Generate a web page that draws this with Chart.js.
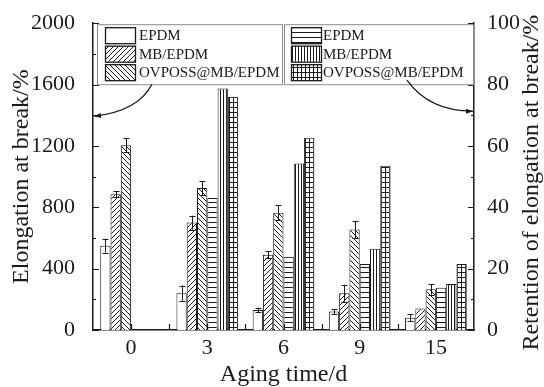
<!DOCTYPE html>
<html><head><meta charset="utf-8">
<script src="https://cdn.jsdelivr.net/npm/chart.js@4.4.1/dist/chart.umd.min.js"></script>
<style>html,body{margin:0;padding:0;background:#fff}canvas{display:block}</style>
</head><body>
<canvas id="c" width="544" height="387"></canvas>
<script>
// ---- data ----
const categories = ['0', '3', '6', '9', '15'];
const seriesNames = ['EPDM', 'MB/EPDM', 'OVPOSS@MB/EPDM'];
const elongEPDM   = [550, 240, 130, 120, 80];
const elongMB     = [885, 700, 490, 240, 140];
const elongOV     = [1205, 925, 765, 655, 265];
const errEPDM     = [45, 50, 15, 18, 22];
const errMB       = [20, 45, 22, 55, 0];
const errOV       = [45, 45, 50, 55, 35];
const retEPDM     = [0, 43, 23.9, 21.5, 13.8];
const retMB       = [0, 78.7, 54.3, 26.5, 15];
const retOV       = [0, 76, 62.7, 53.5, 21.5];
const leftTickValues  = [0, 400, 800, 1200, 1600, 2000];
const rightTickValues = [0, 20, 40, 60, 80, 100];
const xTitle = 'Aging time/d';
const yTitle = 'Elongation at break/%';
const y1Title = 'Retention of elongation at break/%';

const FONT = "Liberation Serif";
const INK = '#1a1a1a';

function makePattern(kind) {
  const c = document.createElement('canvas');
  let w = 5, h = 5;
  if (kind === 'v') { w = 3; h = 3; }
  if (kind === 'grid') { w = 4; h = 5; }
  c.width = w; c.height = h;
  const g = c.getContext('2d');
  g.fillStyle = '#fff'; g.fillRect(0, 0, w, h);
  g.strokeStyle = INK; g.lineWidth = 1;
  g.beginPath();
  if (kind === '/') {
    g.moveTo(-1, h + 1); g.lineTo(w + 1, -1);
    g.moveTo(-1, 1); g.lineTo(1, -1);
    g.moveTo(w - 1, h + 1); g.lineTo(w + 1, h - 1);
  } else if (kind === '\\') {
    g.moveTo(-1, -1); g.lineTo(w + 1, h + 1);
    g.moveTo(w - 1, -1); g.lineTo(w + 1, 1);
    g.moveTo(-1, h - 1); g.lineTo(1, h + 1);
  } else if (kind === 'h') {
    g.moveTo(0, 2.5); g.lineTo(w, 2.5);
  } else if (kind === 'v') {
    g.moveTo(1.5, 0); g.lineTo(1.5, h);
  } else if (kind === 'grid') {
    g.moveTo(1.5, 0); g.lineTo(1.5, h);
    g.moveTo(0, 2.5); g.lineTo(w, 2.5);
  }
  g.stroke();
  return g.createPattern(c, 'repeat');
}

const errs = [errEPDM, errMB, errOV];

function buildChart() {
  const ctx0 = document.getElementById('c').getContext('2d');
  const fills = ['#ffffff', makePattern('/'), makePattern('\\'), makePattern('h'), makePattern('v'), makePattern('grid')];

  function ds(label, data, i, axis) {
    return { label, data, yAxisID: axis, backgroundColor: fills[i], borderColor: INK, borderWidth: 1,
             categoryPercentage: 0.81, barPercentage: 1.0 };
  }

  const decorPlugin = {
    id: 'decor',
    afterDatasetsDraw(chart) {
      const c = chart.ctx;
      const y = chart.scales.y, y1 = chart.scales.y1, x = chart.scales.x;
      c.save();
      c.strokeStyle = INK; c.lineWidth = 1;
      // error bars
      for (let d = 0; d < 3; d++) {
        const meta = chart.getDatasetMeta(d);
        const vals = chart.data.datasets[d].data;
        meta.data.forEach((el, i) => {
          const e = errs[d][i];
          if (!e) return;
          const t = y.getPixelForValue(vals[i] + e), b = y.getPixelForValue(vals[i] - e);
          const px = Math.round(el.x) + 0.5;
          c.beginPath();
          c.moveTo(px, t); c.lineTo(px, b);
          c.moveTo(px - 3, Math.round(t) + 0.5); c.lineTo(px + 3, Math.round(t) + 0.5);
          c.moveTo(px - 3, Math.round(b) + 0.5); c.lineTo(px + 3, Math.round(b) + 0.5);
          c.stroke();
        });
      }
      // inward ticks
      c.lineWidth = 1.2;
      c.beginPath();
      for (let v = 0; v <= 2000; v += 200) {
        const py = Math.round(y.getPixelForValue(v)) + 0.5;
        const len = v % 400 === 0 ? 6 : 3;
        c.moveTo(y.right, py); c.lineTo(y.right + len, py);
      }
      for (let v = 0; v <= 100; v += 10) {
        const py = Math.round(y1.getPixelForValue(v)) + 0.5;
        const len = v % 20 === 0 ? 6 : 3;
        c.moveTo(y1.left, py); c.lineTo(y1.left - len, py);
      }
      for (let i = 0; i < categories.length; i++) {
        const px = Math.round(x.getPixelForValue(i)) + 0.5;
        c.moveTo(px, x.top); c.lineTo(px, x.top - 6);
        if (i < categories.length - 1) {
          const pb = Math.round((x.getPixelForValue(i) + x.getPixelForValue(i + 1)) / 2) + 0.5;
          c.moveTo(pb, x.top); c.lineTo(pb, x.top - 6);
        }
      }
      c.stroke();

      // legends
      const ca = chart.chartArea;
      const boxes = [
        { x0: ca.left + 4, x1: ca.left + 189, sw: ca.left + 12, tx: ca.left + 46, idx: [0, 1, 2] },
        { x0: ca.left + 191, x1: ca.right - 1, sw: ca.left + 198, tx: ca.left + 230, idx: [3, 4, 5] }
      ];
      const top = ca.top + 1, bottom = ca.top + 61;
      c.font = '15px "' + FONT + '"';
      c.textBaseline = 'middle';
      c.textAlign = 'left';
      boxes.forEach(bx => {
        c.fillStyle = '#fff';
        c.fillRect(bx.x0, top, bx.x1 - bx.x0, bottom - top);
        c.strokeStyle = '#8a8a8a'; c.lineWidth = 1;
        c.strokeRect(bx.x0 + 0.5, top + 0.5, bx.x1 - bx.x0, bottom - top);
        bx.idx.forEach((di, r) => {
          const ry = top + 3 + r * 18.5;
          c.fillStyle = fills[di];
          c.fillRect(bx.sw, ry, 30, 16);
          c.strokeStyle = INK; c.lineWidth = 1.3;
          c.strokeRect(bx.sw + 0.5, ry + 0.5, 30, 16);
          c.fillStyle = INK;
          c.fillText(chart.data.datasets[di].label, bx.tx, ry + 9);
        });
      });

      // arrows
      c.strokeStyle = INK; c.lineWidth = 1.3; c.fillStyle = INK;
      function arrow(sx, sy, cx, cy, ex, ey) {
        c.beginPath(); c.moveTo(sx, sy); c.quadraticCurveTo(cx, cy, ex, ey); c.stroke();
        const ang = Math.atan2(ey - cy, ex - cx);
        c.beginPath();
        c.moveTo(ex, ey);
        c.lineTo(ex - 7 * Math.cos(ang) + 2.5 * Math.sin(ang), ey - 7 * Math.sin(ang) - 2.5 * Math.cos(ang));
        c.lineTo(ex - 7 * Math.cos(ang) - 2.5 * Math.sin(ang), ey - 7 * Math.sin(ang) + 2.5 * Math.cos(ang));
        c.closePath(); c.fill();
      }
      arrow(ca.left + 59, bottom, ca.left + 45, ca.top + 88, ca.left + 1, ca.top + 93);
      arrow(ca.right - 67, bottom - 4, ca.right - 45, ca.top + 88, ca.right - 1, ca.top + 88);

      // right axis title, reading bottom-to-top
      c.save();
      c.font = '24px "' + FONT + '"';
      c.fillStyle = INK; c.textAlign = 'center'; c.textBaseline = 'middle';
      c.translate(y1.right - 12, (ca.top + ca.bottom) / 2 + 6);
      c.rotate(-Math.PI / 2);
      c.fillText(y1Title, 0, 0);
      c.restore();
      c.restore();
    }
  };

  Chart.defaults.font.family = '"' + FONT + '"';
  Chart.defaults.color = INK;
  const plain = v => String(v);

  new Chart(ctx0, {
    type: 'bar',
    data: {
      labels: categories,
      datasets: [
        ds(seriesNames[0], elongEPDM, 0, 'y'),
        ds(seriesNames[1], elongMB, 1, 'y'),
        ds(seriesNames[2], elongOV, 2, 'y'),
        ds(seriesNames[0], retEPDM, 3, 'y1'),
        ds(seriesNames[1], retMB, 4, 'y1'),
        ds(seriesNames[2], retOV, 5, 'y1')
      ]
    },
    options: {
      responsive: false,
      animation: false,
      layout: { padding: { top: 20, left: 0, right: 0, bottom: 0 } },
      plugins: { legend: { display: false }, tooltip: { enabled: false } },
      scales: {
        x: {
          grid: { display: false },
          border: { display: true, color: INK, width: 1.5 },
          ticks: { font: { size: 22 }, color: INK, padding: -3, maxRotation: 0 },
          title: { display: true, text: xTitle, font: { size: 24, lineHeight: 1 }, color: INK, padding: { top: 0, bottom: 0 } },
          afterFit(s) { s.height = 57; }
        },
        y: {
          position: 'left', min: 0, max: 2000,
          grid: { display: false },
          border: { display: true, color: INK, width: 1.5 },
          afterBuildTicks(s) { s.ticks = leftTickValues.map(v => ({ value: v })); },
          ticks: { font: { size: 22 }, color: INK, padding: 10, callback: plain },
          title: { display: true, text: yTitle, font: { size: 24, lineHeight: 1 }, color: INK, padding: { top: 10, bottom: 0 } },
          afterFit(s) { s.width = 93; }
        },
        y1: {
          position: 'right', min: 0, max: 100,
          grid: { display: false },
          border: { display: true, color: INK, width: 1.5 },
          afterBuildTicks(s) { s.ticks = rightTickValues.map(v => ({ value: v })); },
          ticks: { font: { size: 22 }, color: INK, padding: 5, callback: plain },
          title: { display: false, text: y1Title },
          afterFit(s) { s.width = 70; }
        }
      }
    },
    plugins: [decorPlugin]
  });
}

if (document.fonts && document.fonts.load) {
  Promise.all([
    document.fonts.load('22px "Liberation Serif"'),
    document.fonts.load('15px "Liberation Serif"')
  ]).then(buildChart, buildChart);
} else {
  buildChart();
}
</script>
</body></html>
